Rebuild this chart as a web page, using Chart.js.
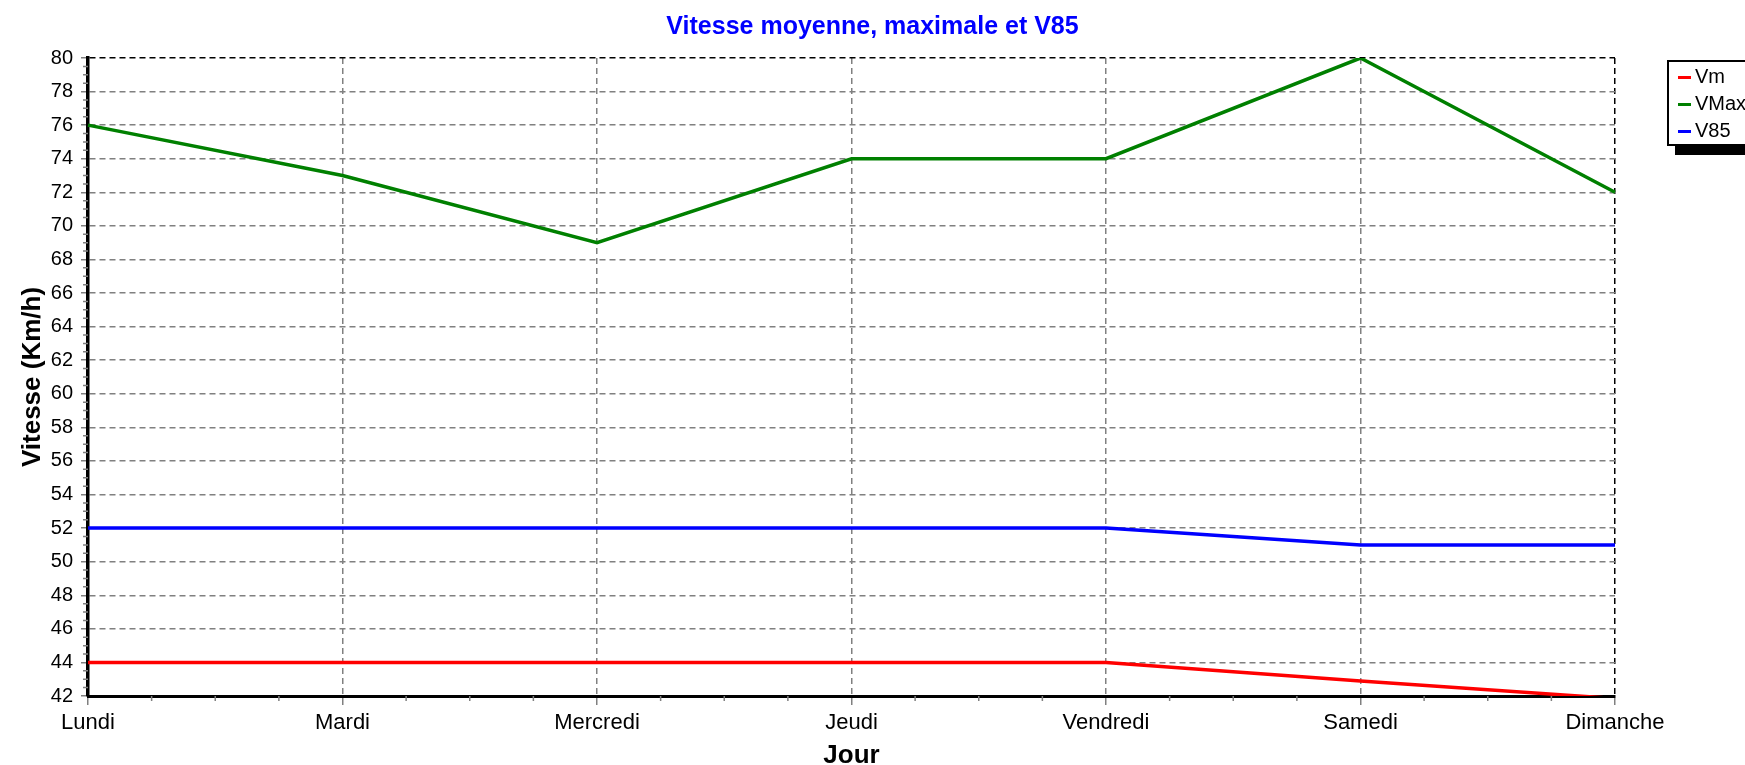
<!DOCTYPE html>
<html>
<head>
<meta charset="utf-8">
<script src="https://cdn.jsdelivr.net/npm/chart.js@4.4.0/dist/chart.umd.min.js"></script>
<style>
  body { margin: 0; background: #fff; overflow: hidden; }
  #wrap { position: relative; width: 1745px; height: 765px; }
  #legend {
    position: absolute; left: 1667px; top: 60px; width: 110px; height: 86px;
    border: 2px solid #000; background: #fff; box-shadow: 8px 9px 0 #000;
    font: 20px 'Liberation Sans', Arial, sans-serif; color: #000;
    padding-top: 1px; box-sizing: border-box;
  }
  #legend div { height: 27px; line-height: 27px; padding-left: 9px; }
  #legend span { display: inline-block; width: 13px; height: 3px; vertical-align: middle; margin-right: 4px; }
</style>
</head>
<body>
<div id="wrap">
  <canvas id="speedChart"></canvas>
  <div id="legend"></div>
</div>
<script>
const days = ['Lundi', 'Mardi', 'Mercredi', 'Jeudi', 'Vendredi', 'Samedi', 'Dimanche'];
const vm = [44, 44, 44, 44, 44, 42.9, 41.85];
const vmax = [76, 73, 69, 74, 74, 80, 72];
const v85 = [52, 52, 52, 52, 52, 51, 51];
const yTicks = [42, 80, 2];

const seriesNames = ['Vm', 'VMax', 'V85'];
const seriesColors = ['#ff0000', '#008000', '#0000ff'];

// petites graduations sur les axes
const minorTicks = {
  id: 'minorTicks',
  afterDraw(chart) {
    const ctx = chart.ctx;
    const x = chart.scales.x;
    const y = chart.scales.y;
    const area = chart.chartArea;
    ctx.save();
    ctx.strokeStyle = '#808080';
    ctx.lineWidth = 1.5;
    ctx.beginPath();
    for (let i = 0; i < days.length - 1; i++) {
      for (let k = 1; k < 4; k++) {
        const px = x.getPixelForValue(i + k / 4);
        ctx.moveTo(px, area.bottom);
        ctx.lineTo(px, area.bottom + 5);
      }
    }
    for (let v = yTicks[0]; v < yTicks[1]; v += yTicks[2]) {
      for (let k = 1; k < 4; k++) {
        const py = y.getPixelForValue(v + k * yTicks[2] / 4);
        ctx.moveTo(area.left - 5, py);
        ctx.lineTo(area.left, py);
      }
    }
    ctx.stroke();
    ctx.restore();
  }
};

const gridDash = [6, 4];

const ctx = document.getElementById('speedChart').getContext('2d');
const chartInstance = new Chart(ctx, {
  type: 'line',
  data: {
    labels: days,
    datasets: [
      { label: seriesNames[0], data: vm, borderColor: seriesColors[0] },
      { label: seriesNames[1], data: vmax, borderColor: seriesColors[1] },
      { label: seriesNames[2], data: v85, borderColor: seriesColors[2] }
    ]
  },
  options: {
    responsive: true,
    maintainAspectRatio: false,
    animation: false,
    layout: { padding: 0 },
    elements: {
      line: { borderWidth: 3.5, tension: 0 },
      point: { radius: 0 }
    },
    plugins: {
      legend: { display: false },
      tooltip: { enabled: false },
      title: {
        display: true,
        text: 'Vitesse moyenne, maximale et V85',
        color: '#0000ff',
        font: { family: 'Liberation Sans', size: 25, weight: 'bold' },
        padding: { top: 12, bottom: 16 }
      }
    },
    scales: {
      x: {
        offset: false,
        afterFit: (s) => { s.height = 69; },
        grid: {
          color: (c) => c.index === days.length - 1 ? '#000' : '#808080',
          lineWidth: 1.5,
          tickColor: '#808080',
          tickLength: 9
        },
        border: { display: true, color: '#000', width: 3, dash: gridDash },
        ticks: {
          color: '#000',
          autoSkip: false,
          maxRotation: 0,
          padding: 5,
          font: { family: 'Liberation Sans', size: 22 }
        },
        title: {
          display: true,
          text: 'Jour',
          color: '#000',
          font: { family: 'Liberation Sans', size: 26, weight: 'bold' },
          padding: { top: 0, bottom: -6 }
        }
      },
      y: {
        min: yTicks[0],
        max: yTicks[1],
        afterFit: (s) => { s.width = 88; },
        grid: {
          color: (c) => c.tick && c.tick.value === yTicks[1] ? '#000' : '#808080',
          lineWidth: 1.5,
          tickColor: '#808080',
          tickLength: 7
        },
        border: { display: true, color: '#000', width: 3.5, dash: gridDash },
        ticks: {
          stepSize: yTicks[2],
          color: '#000',
          padding: 8,
          font: { family: 'Liberation Sans', size: 20 }
        },
        title: {
          display: true,
          text: 'Vitesse (Km/h)',
          color: '#000',
          font: { family: 'Liberation Sans', size: 26, weight: 'bold' },
          padding: { top: 17, bottom: 0 }
        }
      },
      // place réservée à la légende
      yRight: {
        type: 'linear',
        position: 'right',
        display: true,
        afterFit: (s) => { s.width = 130; },
        grid: { display: false },
        border: { display: false },
        ticks: { display: false }
      }
    }
  },
  plugins: [minorTicks]
});

const legend = document.getElementById('legend');
seriesNames.forEach((name, i) => {
  legend.innerHTML += `<div><span style="background:${seriesColors[i]}"></span>${name}</div>`;
});
</script>
</body>
</html>
